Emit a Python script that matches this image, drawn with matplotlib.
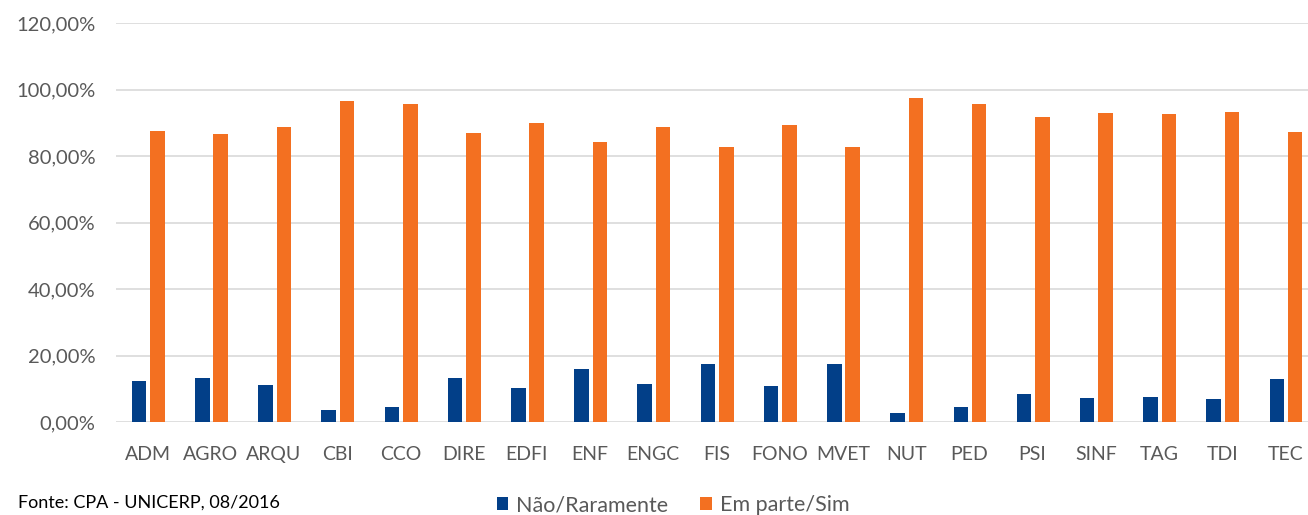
import numpy as np
import matplotlib.pyplot as plt
from matplotlib.ticker import FuncFormatter

plt.rcParams['font.family'] = ['Lato', 'DejaVu Sans']

cursos = ['ADM', 'AGRO', 'ARQU', 'CBI', 'CCO', 'DIRE', 'EDFI', 'ENF', 'ENGC', 'FIS',
          'FONO', 'MVET', 'NUT', 'PED', 'PSI', 'SINF', 'TAG', 'TDI', 'TEC']
nao_raramente = [12.4, 13.3, 11.2, 3.5, 4.5, 13.1, 10.1, 15.9, 11.3, 17.3,
                 10.8, 17.4, 2.7, 4.4, 8.3, 7.1, 7.4, 6.8, 12.8]
em_parte_sim = [87.6, 86.7, 88.8, 96.5, 95.5, 86.9, 89.9, 84.1, 88.7, 82.7,
                89.2, 82.6, 97.3, 95.6, 91.7, 92.9, 92.6, 93.2, 87.2]

AZUL = '#023f88'
LARANJA = '#f37021'
CINZA = '#595959'

fig = plt.figure(figsize=(13.08, 5.15), dpi=100)
# the plot area runs a bit past the right edge, as in the original export
ax = fig.add_axes([116 / 1308, 1 - 422 / 515, 1201 / 1308, 399 / 515])

x = np.arange(len(cursos))
w = 0.23
ax.bar(x - 0.135, nao_raramente, width=w, color=AZUL, label='Não/Raramente', zorder=3)
ax.bar(x + 0.155, em_parte_sim, width=w, color=LARANJA, label='Em parte/Sim', zorder=3)

ax.set_xlim(-0.5, len(cursos) - 0.5)
ax.set_ylim(0, 120)
ax.set_yticks(np.arange(0, 121, 20))
ax.yaxis.set_major_formatter(FuncFormatter(lambda v, _: f'{v:.2f}%'.replace('.', ',')))
ax.set_xticks(x)
ax.set_xticklabels(cursos)
ax.grid(axis='y', color='#d9d9d9', linewidth=1.2, zorder=0)
for s in ax.spines.values():
    s.set_visible(False)
ax.tick_params(length=0, colors=CINZA)
ax.tick_params(axis='x', labelsize=14, pad=17)
ax.tick_params(axis='y', labelsize=14.5, pad=15)

fig.text(18 / 1308, 1 - 503 / 515, 'Fonte: CPA - UNICERP, 08/2016', fontsize=13,
         color='#000000', va='center')
fig.legend(loc='center', bbox_to_anchor=(673 / 1308, 1 - 505 / 515), ncol=2, frameon=False,
           fontsize=15.5, labelcolor=CINZA, handlelength=0.55, handleheight=0.55,
           handletextpad=0.35, columnspacing=1.5, borderaxespad=0, borderpad=0)

fig.savefig('out.png', dpi=100)
